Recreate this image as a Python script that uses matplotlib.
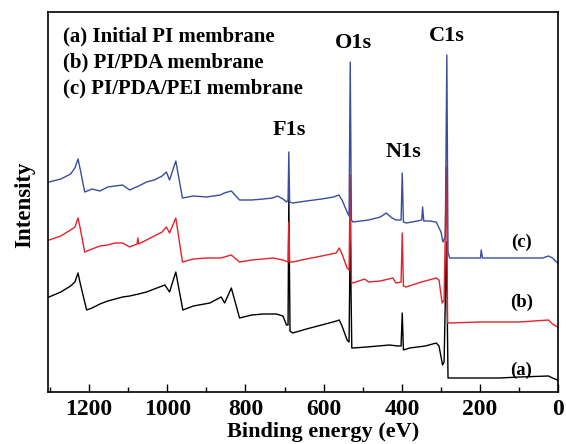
import matplotlib
matplotlib.use("Agg")
import matplotlib.pyplot as plt
from matplotlib.ticker import MultipleLocator

plt.rcParams['font.family'] = ['Liberation Serif', 'DejaVu Serif']
plt.rcParams['font.weight'] = 'bold'

# ---------------------------------------------------------------------------
# Spectra (binding energy in eV, intensity in a.u.)
# ---------------------------------------------------------------------------

energy_a = [1302, 1272, 1247, 1236, 1228, 1222, 1206, 1192, 1172, 1152, 1133,
            1114, 1096, 1073, 1053, 1033, 1006, 994, 978, 960, 933, 891, 862,
            853, 836, 815, 784, 754, 721, 704, 695, 691, 689, 686, 679, 644,
            605, 567, 560, 553, 540, 535, 532, 528, 525, 490, 432, 410, 402,
            399, 396, 380, 340, 312, 305, 296, 292, 286, 282, 278, 200, 150,
            100, 25, 15, 2]
intensity_a = [95, 100, 106, 110, 119, 108, 82, 84, 88, 91, 93,
               95, 96, 98, 100, 103, 107, 100, 120, 82, 86, 89, 95,
               89, 104, 74, 77, 78, 78, 76, 67, 67, 195, 61, 59, 63,
               67, 71, 72, 66, 52, 50, 160, 44, 44, 45, 47, 46, 46,
               79, 42, 44, 46, 49, 46, 27, 30, 150, 14, 14, 14, 14,
               15, 16, 14, 12]

energy_b = [1302, 1272, 1247, 1236, 1228, 1222, 1211, 1192, 1172, 1152, 1133,
            1114, 1096, 1077, 1075, 1073, 1053, 1033, 1013, 1002, 994, 978,
            961, 933, 900, 864, 854, 836, 815, 784, 754, 730, 704, 691, 689,
            687, 679, 644, 605, 568, 560, 553, 540, 535, 532, 529, 525, 495,
            485, 455, 423, 415, 402, 399, 396, 389, 350, 312, 305, 297, 292,
            286, 283, 278, 200, 100, 25, 15, 2]
intensity_b = [152, 156, 162, 165, 174, 163, 140, 143, 146, 147, 149,
               149, 145, 148, 154, 148, 152, 156, 160, 165, 159, 174,
               130, 133, 134, 134, 135, 137, 130, 132, 133, 134, 132, 130, 170,
               130, 130, 133, 136, 139, 144, 138, 124, 122, 217, 110, 109, 113,
               110, 111, 114, 109, 110, 159, 106, 105, 110, 114, 112, 89, 92,
               225, 69, 69, 70, 70, 72, 68, 65]

energy_c = [1302, 1272, 1247, 1236, 1228, 1222, 1211, 1192, 1172, 1152, 1133,
            1114, 1096, 1073, 1053, 1033, 1013, 1002, 994, 978, 961, 933, 900,
            864, 854, 836, 815, 784, 754, 730, 718, 704, 695, 691, 689, 687,
            679, 644, 605, 575, 561, 553, 540, 535, 532, 529, 525, 485, 455,
            440, 425, 415, 402, 399, 396, 389, 360, 349, 347, 344, 330, 312,
            300, 295, 289, 285, 282, 278, 240, 199, 197, 194, 100, 40, 25, 15,
            2]
intensity_c = [210, 213, 218, 224, 233, 222, 200, 203, 201, 205, 206,
               207, 202, 206, 210, 212, 216, 220, 212, 231, 194, 196, 195,
               197, 199, 201, 192, 192, 193, 194, 196, 193, 190, 192, 240, 190,
               189, 191, 193, 195, 197, 192, 180, 176, 330, 172, 170, 172, 175,
               179, 174, 172, 172, 219, 170, 169, 171, 172, 185, 171, 171, 170,
               160, 150, 155, 337, 140, 134, 134, 134, 142, 134, 134, 134, 136,
               134, 129]

curve_tags = ['(a)', '(b)', '(c)']
tag_energy = [95, 95, 95]
tag_intensity = [22, 90, 150]

peak_names = ['F1s', 'O1s', 'N1s', 'C1s']
peak_energy = [687, 524, 397, 285]
peak_label_intensity = [262, 349, 240, 356]

legend_lines = ['(a) Initial PI membrane',
                '(b) PI/PDA membrane',
                '(c) PI/PDA/PEI membrane']

BLUE = '#3a4d9e'
RED = '#e3232b'

# ---------------------------------------------------------------------------
# Figure
# ---------------------------------------------------------------------------

fig = plt.figure(figsize=(5.66, 4.44), dpi=100)
ax = fig.add_axes([48.3 / 566, 52 / 444, 510 / 566, 380.3 / 444])

ax.plot(energy_a, intensity_a, color='black', lw=1.0)
ax.plot(energy_b, intensity_b, color=RED, lw=1.0)
ax.plot(energy_c, intensity_c, color=BLUE, lw=1.0)

ax.set_xlim(1304, 0)
ax.set_ylim(0, 380.3)

ax.xaxis.set_major_locator(MultipleLocator(200))
ax.xaxis.set_minor_locator(MultipleLocator(100))
ax.tick_params(axis='x', which='major', direction='in', length=6, width=1.0,
               labelsize=17, pad=5)
ax.tick_params(axis='x', which='minor', direction='in', length=3.5, width=1.0)
ax.set_yticks([])
for spine in ax.spines.values():
    spine.set_linewidth(1.2)

for lab in ax.get_xticklabels():
    lab.set_fontweight('bold')

ax.set_xlabel('Binding energy (eV)', fontsize=16, fontweight='bold')
ax.xaxis.set_label_coords((323.5 - 48.3) / 510, -0.078)
ax.set_ylabel('Intensity', fontsize=16.5, fontweight='bold')
ax.yaxis.set_label_coords(-0.026, 0.492)

for tag, e, i in zip(curve_tags, tag_energy, tag_intensity):
    ax.text(e, i, tag, fontsize=13.5, fontweight='bold', ha='center', va='center')

for name, e, i in zip(peak_names, peak_energy, peak_label_intensity):
    ax.text(e, i, name, fontsize=16, fontweight='bold', ha='center', va='center')

for k, line in enumerate(legend_lines):
    ax.text(0.029, 0.934 - k * 0.0678, line, transform=ax.transAxes,
            fontsize=15, fontweight='bold', ha='left', va='center')

fig.savefig('out.png', dpi=100)
